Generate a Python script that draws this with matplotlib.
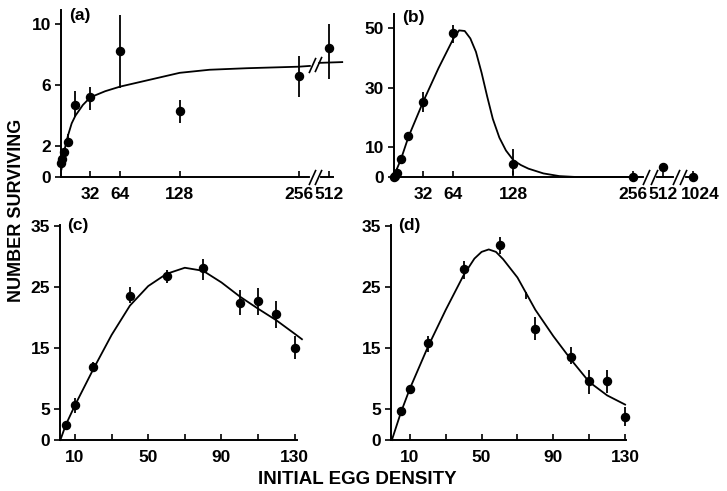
import numpy as np
import matplotlib
matplotlib.use("Agg")
import matplotlib.pyplot as plt
import matplotlib.transforms as mtransforms

plt.rcParams['font.family'] = ['Liberation Sans', 'DejaVu Sans']
plt.rcParams['font.weight'] = 'bold'

# -------------------- data --------------------------------------------------

# (a)
a_x = [1, 2, 4, 8, 16, 32, 64, 128, 256, 512]
a_y = [0.9, 1.2, 1.6, 2.3, 4.7, 5.2, 8.2, 4.3, 6.6, 8.4]
a_lo = [0.9, 1.0, 1.4, 2.0, 3.9, 4.4, 5.8, 3.5, 5.2, 6.4]
a_hi = [0.9, 1.4, 1.8, 2.8, 5.6, 5.9, 10.6, 5.0, 7.9, 10.0]
a_curve_x = [1, 4, 8, 12, 16, 24, 32, 48, 64, 96, 128, 160, 200, 256, 330]
a_curve_y = [0.5, 1.7, 2.7, 3.5, 4.0, 4.7, 5.2, 5.6, 5.9, 6.35, 6.8, 7.0, 7.1, 7.2, 7.25]
a_curve2_x = [410, 700]
a_curve2_y = [7.45, 7.5]

# (b)
b_x = [1, 2, 4, 8, 16, 32, 64, 128, 256, 512, 1024]
b_y = [0, 0.5, 1.5, 6.0, 13.8, 25.3, 48.2, 4.5, 0, 3.4, 0]
b_lo = [0, 0.5, 0.5, 6.0, 13.8, 21.7, 45.0, 0.8, 0, 3.4, 0]
b_hi = [0, 0.5, 3.0, 6.0, 13.8, 28.5, 51.0, 9.3, 0, 3.4, 0]
b_curve_x = [0, 8, 16, 32, 48, 64, 70, 76, 82, 88, 94, 100, 106, 113, 120, 128,
             136, 144, 160, 177, 195, 256]
b_curve_y = [0, 6, 13.5, 25.5, 36.5, 46.5, 49.2, 49.0, 46.5, 42, 35, 27, 19.5, 13.2,
             8.9, 5.6, 4.0, 2.8, 1.2, 0.3, 0, 0]

# (c)
c_x = [5, 10, 20, 40, 60, 80, 100, 110, 120, 130]
c_y = [2.5, 5.7, 12.0, 23.6, 26.9, 28.1, 22.5, 22.8, 20.6, 15.1]
c_lo = [2.5, 4.4, 11.2, 22.4, 25.7, 26.2, 20.5, 20.5, 18.3, 13.2]
c_hi = [2.5, 6.8, 12.8, 25.0, 27.9, 29.6, 24.5, 24.9, 22.7, 17.0]
c_curve_x = [2, 5, 10, 20, 30, 40, 50, 60, 70, 80, 90, 100, 110, 120, 130, 134]
c_curve_y = [0, 2.5, 5.7, 11.6, 17.2, 22.0, 25.2, 27.2, 28.2, 27.7, 25.8, 23.5, 21.5,
             19.6, 17.4, 16.5]

# (d)
d_x = [5, 10, 20, 40, 60, 80, 100, 110, 120, 130]
d_y = [4.8, 8.4, 15.8, 28.0, 31.9, 18.2, 13.6, 9.6, 9.6, 3.8]
d_lo = [4.8, 8.4, 14.4, 26.4, 30.4, 16.3, 12.5, 7.5, 7.7, 2.3]
d_hi = [4.8, 8.4, 17.1, 29.3, 33.3, 20.1, 15.2, 11.5, 11.4, 5.4]
d_hidden_x = [75]
d_hidden_lo = [23.1]
d_hidden_hi = [24.2]
d_curve_x = [0, 5, 10, 20, 30, 40, 46, 50, 54, 58, 62, 70, 80, 90, 100, 110, 120, 130]
d_curve_y = [0, 4.5, 8.4, 15.2, 21.3, 27.0, 29.7, 30.8, 31.2, 30.8, 29.6, 26.6, 21.3,
             17.0, 13.1, 9.5, 7.3, 5.8]


# x axis of (a) and (b): linear up to 256, then one doubling per 32 units
def fwd(x):
    x = np.asarray(x, dtype=float)
    return np.where(x <= 256, x, 256 + 32 * np.log2(np.maximum(x, 256) / 256))


def inv(p):
    p = np.asarray(p, dtype=float)
    return np.where(p <= 256, p, 256 * 2 ** ((np.maximum(p, 256) - 256) / 32))


W, H = 727, 491
fig = plt.figure(figsize=(W / 100, H / 100), dpi=100)


def px_axes(left, top, right, bottom):
    return fig.add_axes([left / W, 1 - bottom / H, (right - left) / W, (bottom - top) / H])


ax_a = px_axes(60.5, 10, 333, 177)
ax_b = px_axes(393.5, 14, 694, 177)
ax_c = px_axes(60, 225, 297, 440)
ax_d = px_axes(391, 225, 626, 440)

for ax in (ax_a, ax_b, ax_c, ax_d):
    ax.spines[['top', 'right']].set_visible(False)
    ax.spines[['left', 'bottom']].set_linewidth(1.4)
    ax.tick_params(axis='x', direction='in', length=4, width=1.2, pad=7, labelsize=12.5)
    ax.tick_params(axis='y', direction='out', length=4, width=1.2, pad=3, labelsize=12.5)
    ax.set_facecolor('none')


def draw(ax, x, y, lo, hi, cx, cy):
    y = np.asarray(y)
    yerr = [y - np.asarray(lo), np.asarray(hi) - y]
    ax.plot(cx, cy, color='k', lw=1.3, clip_on=False, zorder=2)
    ax.errorbar(x, y, yerr=yerr, fmt='o', color='k', ms=5.8, elinewidth=1.3,
                capsize=0, clip_on=False, zorder=3)


slash = [(-0.45, -1), (0.45, 1)]


def axis_break(ax, x1, x2):
    tr = mtransforms.blended_transform_factory(ax.transData, ax.transAxes)
    ax.plot([x1, x2], [0, 0], color='white', lw=3, transform=tr, clip_on=False, zorder=5)
    ax.plot([x1, x2], [0, 0], ls='none', marker=slash, ms=11, mew=1.2, color='k',
            transform=tr, clip_on=False, zorder=6)


# -------------------- (a) ---------------------------------------------------
ax_a.set_xscale('function', functions=(fwd, inv))
ax_a.set_xlim(0, 565)
ax_a.set_ylim(0, 10.9)
draw(ax_a, a_x, a_y, a_lo, a_hi, a_curve_x, a_curve_y)
ax_a.plot(a_curve2_x, a_curve2_y, color='k', lw=1.3, clip_on=False)
ax_a.set_xticks([32, 64, 128, 256, 512], ['32', '64', '128', '256', '512'])
ax_a.set_yticks([0, 2, 6, 10])
axis_break(ax_a, 345, 400)
ax_a.plot([345, 400], [7.3, 7.4], ls='none', marker=slash, ms=11, mew=1.2, color='k',
          clip_on=False, zorder=6)
ax_a.text(0.03, 0.97, '(a)', transform=ax_a.transAxes, fontsize=12.5, va='center')

# -------------------- (b) ---------------------------------------------------
ax_b.set_xscale('function', functions=(fwd, inv))
ax_b.set_xlim(0, 1040)
ax_b.set_ylim(0, 54.7)
draw(ax_b, b_x, b_y, b_lo, b_hi, b_curve_x, b_curve_y)
ax_b.set_xticks([32, 64, 128, 256, 512, 1024], ['32', '64', '128', '256', '512', '1024'])
ax_b.set_yticks([0, 10, 30, 50])
axis_break(ax_b, 340, 410)
axis_break(ax_b, 690, 810)
ax_b.text(0.03, 0.98, '(b)', transform=ax_b.transAxes, fontsize=12.5, va='center')
# the last label sits a little right of its tick, as in the print
shift = mtransforms.ScaledTranslation(7 / 100, 0, fig.dpi_scale_trans)
lbl = ax_b.get_xticklabels()[-1]
lbl.set_transform(lbl.get_transform() + shift)

# -------------------- (c) ---------------------------------------------------
ax_c.set_xlim(1.8, 131.3)
ax_c.set_ylim(0, 35.2)
draw(ax_c, c_x, c_y, c_lo, c_hi, c_curve_x, c_curve_y)
ax_c.set_xticks([10, 30, 50, 70, 90, 110, 130], ['10', '', '50', '', '90', '', '130'])
ax_c.set_yticks([0, 5, 15, 25, 35])
ax_c.text(0.03, 1.0, '(c)', transform=ax_c.transAxes, fontsize=12.5, va='center')

# -------------------- (d) ---------------------------------------------------
ax_d.set_xlim(-0.5, 130.5)
ax_d.set_ylim(0, 35.2)
draw(ax_d, d_x, d_y, d_lo, d_hi, d_curve_x, d_curve_y)
ax_d.vlines(d_hidden_x, d_hidden_lo, d_hidden_hi, color='k', lw=1.3)
ax_d.set_xticks([10, 30, 50, 70, 90, 110, 130], ['10', '', '50', '', '90', '', '130'])
ax_d.set_yticks([0, 5, 15, 25, 35])
ax_d.text(0.03, 1.0, '(d)', transform=ax_d.transAxes, fontsize=12.5, va='center')

fig.text(17 / W, 1 - 210 / H, 'NUMBER SURVIVING', rotation=90, ha='center', va='center',
         fontsize=13)
fig.text(357 / W, 1 - 480 / H, 'INITIAL EGG DENSITY', ha='center', va='center',
         fontsize=13.5)

fig.savefig('out.png', dpi=100)
